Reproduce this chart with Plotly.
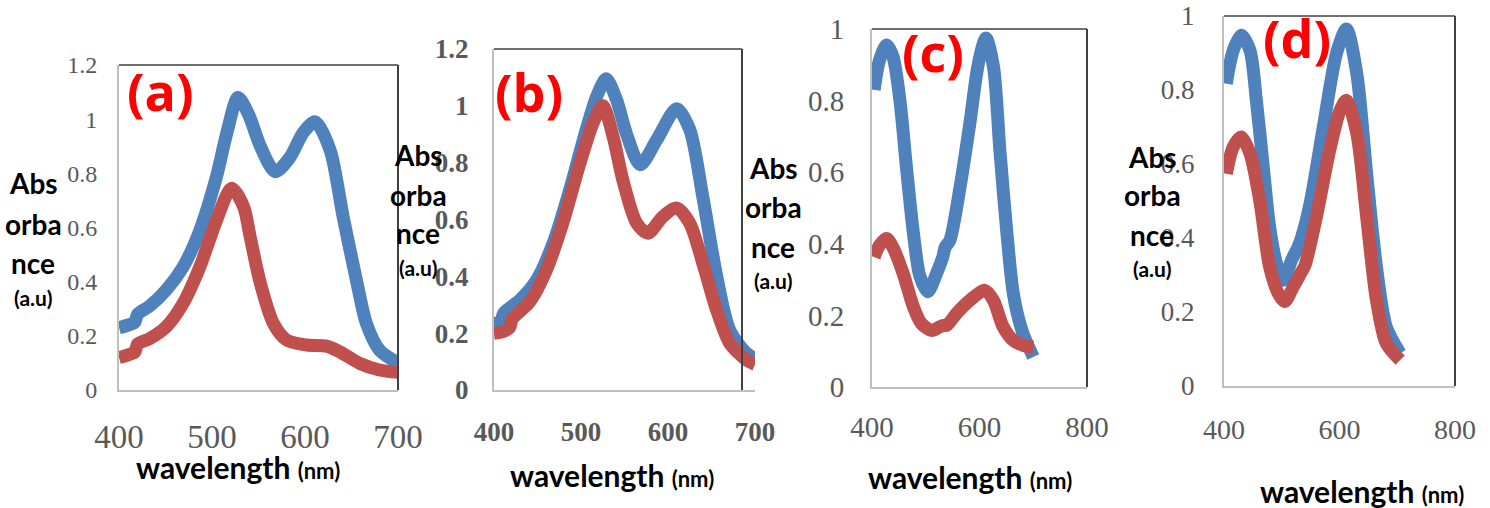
import plotly.graph_objects as go

# ---------------- data ----------------
# Panel (a)
a_blue_x = [400, 410, 417, 420, 433, 451, 469, 487, 505, 516, 528, 539, 552, 568, 584, 598, 611, 627, 641, 656, 666, 680, 700]
a_blue_y = [0.23, 0.24, 0.25, 0.28, 0.31, 0.37, 0.455, 0.59, 0.79, 0.95, 1.08, 1.02, 0.90, 0.806, 0.86, 0.95, 0.99, 0.886, 0.64, 0.394, 0.246, 0.148, 0.10]
a_red_x = [400, 410, 417, 420, 433, 451, 469, 487, 505, 521, 534, 541, 552, 566, 580, 602, 623, 638, 659, 680, 700]
a_red_y = [0.12, 0.13, 0.14, 0.17, 0.19, 0.234, 0.32, 0.455, 0.628, 0.745, 0.677, 0.566, 0.394, 0.246, 0.185, 0.166, 0.162, 0.14, 0.098, 0.074, 0.065]

# Panel (b)
b_blue_x = [400, 408, 411, 430, 449, 468, 487, 506, 518, 529, 541, 552, 568, 587, 610, 625, 640, 656, 671, 690, 700]
b_blue_y = [0.235, 0.24, 0.27, 0.317, 0.387, 0.517, 0.704, 0.916, 1.033, 1.095, 1.02, 0.904, 0.793, 0.88, 0.99, 0.916, 0.68, 0.40, 0.21, 0.13, 0.11]
b_red_x = [400, 410, 418, 421, 441, 460, 479, 499, 514, 525, 537, 548, 564, 577, 594, 610, 625, 640, 656, 671, 690, 700]
b_red_y = [0.20, 0.205, 0.22, 0.25, 0.31, 0.42, 0.587, 0.80, 0.94, 1.0, 0.89, 0.74, 0.587, 0.552, 0.61, 0.64, 0.587, 0.446, 0.28, 0.164, 0.106, 0.09]

# Panel (c)
c_blue_x = [404, 414, 427, 439, 452, 464, 477, 489, 504, 520, 532, 536, 545, 564, 582, 598, 612, 626, 638, 651, 663, 679, 700]
c_blue_y = [0.83, 0.913, 0.955, 0.923, 0.80, 0.615, 0.43, 0.31, 0.266, 0.317, 0.365, 0.39, 0.41, 0.56, 0.736, 0.904, 0.975, 0.895, 0.66, 0.43, 0.26, 0.158, 0.084]
c_red_x = [404, 414, 427, 439, 458, 477, 492, 511, 526, 533, 539, 557, 582, 610, 626, 644, 663, 682, 700]
c_red_y = [0.363, 0.396, 0.415, 0.39, 0.317, 0.224, 0.177, 0.158, 0.168, 0.172, 0.172, 0.205, 0.242, 0.27, 0.242, 0.168, 0.13, 0.116, 0.112]

# Panel (d)
d_blue_x = [404, 416, 430, 445, 456, 468, 479, 491, 503, 517, 528, 534, 549, 572, 595, 612, 630, 647, 664, 681, 705]
d_blue_y = [0.817, 0.907, 0.948, 0.907, 0.772, 0.592, 0.43, 0.331, 0.286, 0.34, 0.375, 0.40, 0.493, 0.70, 0.90, 0.965, 0.844, 0.574, 0.322, 0.16, 0.088]
d_red_x = [404, 416, 430, 445, 462, 479, 494, 505, 520, 533, 540, 560, 583, 601, 612, 630, 647, 664, 681, 705]
d_red_y = [0.574, 0.646, 0.673, 0.628, 0.50, 0.322, 0.25, 0.228, 0.268, 0.305, 0.325, 0.457, 0.637, 0.745, 0.772, 0.682, 0.457, 0.232, 0.115, 0.07]

panel_labels = ["(a)", "(b)", "(c)", "(d)"]
ab_xticks = [400, 500, 600, 700]
cd_xticks = [400, 600, 800]
ab_yticks = [0, 0.2, 0.4, 0.6, 0.8, 1, 1.2]
cd_yticks = [0, 0.2, 0.4, 0.6, 0.8, 1]
ab_yticktext = ["0", "0.2", "0.4", "0.6", "0.8", "1", "1.2"]
cd_yticktext = ["0", "0.2", "0.4", "0.6", "0.8", "1"]

# ---------------- styling ----------------
W, H = 1490, 508
BLUE = "#4F81BD"
RED = "#C0504D"
LW = 13
GRAY_AX = "#BFBFBF"
DARK = "#404040"
TICK_COL = "#595959"
SERIF = "Liberation Serif"
SANS = "Lato"
LETTER_FONT = "Open Sans"

def px(x):
    return x / W

def py(y):
    return 1 - y / H

fig = go.Figure()

series = [
    (a_blue_x, a_blue_y, a_red_x, a_red_y),
    (b_blue_x, b_blue_y, b_red_x, b_red_y),
    (c_blue_x, c_blue_y, c_red_x, c_red_y),
    (d_blue_x, d_blue_y, d_red_x, d_red_y),
]

for i, (bx, by, rx, ry) in enumerate(series):
    xa = "x" if i == 0 else f"x{i+1}"
    ya = "y" if i == 0 else f"y{i+1}"
    fig.add_trace(go.Scatter(x=bx, y=by, mode="lines", xaxis=xa, yaxis=ya,
                             line=dict(color=BLUE, width=LW, shape="spline", smoothing=0.8),
                             showlegend=False, hoverinfo="skip"))
    fig.add_trace(go.Scatter(x=rx, y=ry, mode="lines", xaxis=xa, yaxis=ya,
                             line=dict(color=RED, width=LW, shape="spline", smoothing=0.8),
                             showlegend=False, hoverinfo="skip"))

panels = [
    dict(l=119, r=398, t=65, b=390, xr=[400, 700], yr=[0, 1.2], xt=ab_xticks, yt=ab_yticks, ytt=ab_yticktext,
         xfs=33, yfs=24, bold=False, ystand=15, xstand=16, box_r=398),
    dict(l=494, r=755, t=49, b=390, xr=[400, 700], yr=[0, 1.2], xt=ab_xticks, yt=ab_yticks, ytt=ab_yticktext,
         xfs=27, yfs=27, bold=True, ystand=18, xstand=17, box_r=742),
    dict(l=872, r=1087, t=29, b=387, xr=[400, 800], yr=[0, 1], xt=cd_xticks, yt=cd_yticks, ytt=cd_yticktext,
         xfs=29, yfs=29, bold=False, ystand=20, xstand=13, box_r=1087),
    dict(l=1224, r=1455, t=16, b=386, xr=[400, 800], yr=[0, 1], xt=cd_xticks, yt=cd_yticks, ytt=cd_yticktext,
         xfs=28, yfs=27, bold=False, ystand=22, xstand=17, box_r=1455),
]

layout = dict(width=W, height=H, margin=dict(l=0, r=0, t=0, b=0, pad=0, autoexpand=False),
              paper_bgcolor="white", plot_bgcolor="white", showlegend=False)

shapes = []
for i, p in enumerate(panels):
    xk = "xaxis" if i == 0 else f"xaxis{i+1}"
    yk = "yaxis" if i == 0 else f"yaxis{i+1}"
    yname = "y" if i == 0 else f"y{i+1}"
    xname = "x" if i == 0 else f"x{i+1}"
    tfont_x = dict(family=SERIF, size=p["xfs"], color=TICK_COL, weight="bold" if p["bold"] else "normal")
    tfont_y = dict(family=SERIF, size=p["yfs"], color=TICK_COL, weight="bold" if p["bold"] else "normal")
    layout[xk] = dict(domain=[px(p["l"]), px(p["r"])], range=p["xr"], anchor=yname,
                      tickvals=p["xt"], ticktext=[str(v) for v in p["xt"]], tickfont=tfont_x,
                      showgrid=False, zeroline=False, showline=True, linecolor=GRAY_AX, linewidth=2,
                      ticks="", ticklabelstandoff=p["xstand"], ticklabeloverflow="allow",
                      fixedrange=True, automargin=False)
    layout[yk] = dict(domain=[py(p["b"]), py(p["t"])], range=p["yr"], anchor=xname,
                      tickvals=p["yt"], ticktext=p["ytt"], tickfont=tfont_y,
                      showgrid=False, zeroline=False, showline=True, linecolor=GRAY_AX, linewidth=2,
                      ticks="", ticklabelstandoff=p["ystand"], ticklabeloverflow="allow",
                      fixedrange=True, automargin=False)
    shapes.append(dict(type="line", xref="paper", yref="paper",
                       x0=px(p["l"]), x1=px(p["box_r"]), y0=py(p["t"]), y1=py(p["t"]),
                       line=dict(color=DARK, width=1.5)))
    shapes.append(dict(type="line", xref="paper", yref="paper",
                       x0=px(p["box_r"]), x1=px(p["box_r"]), y0=py(p["t"]), y1=py(p["b"]),
                       line=dict(color=DARK, width=2)))

layout["shapes"] = shapes

annotations = []

def ann(text, x, y, size, color="black", weight="bold", family=SANS):
    annotations.append(dict(text=text, x=px(x), y=py(y), xref="paper", yref="paper",
                            xanchor="center", yanchor="middle", showarrow=False,
                            font=dict(family=family, size=size, color=color, weight=weight)))

# panel letters
ann(panel_labels[0], 160, 90, 52, color="#FF0000", family=LETTER_FONT)
ann(panel_labels[1], 529, 91, 52, color="#FF0000", family=LETTER_FONT)
ann(panel_labels[2], 933, 51, 52, color="#FF0000", family=LETTER_FONT)
ann(panel_labels[3], 1297, 38, 52, color="#FF0000", family=LETTER_FONT)

# y-axis titles (stacked)
ylab_pos = [(33, [183, 224, 263, 297]),
            (418, [155, 195, 233, 267]),
            (773, [168, 207, 247, 280]),
            (1152, [157, 195, 235, 268])]
for xc, ys in ylab_pos:
    ann("Abs", xc, ys[0], 28)
    ann("orba", xc, ys[1], 28)
    ann("nce", xc, ys[2], 28)
    ann("(a.u)", xc, ys[3], 21)

# x-axis titles
xlab_pos = [(238, 467), (612, 475), (970, 477), (1362, 491)]
for xc, yc in xlab_pos:
    ann("wavelength <span style='font-size:22px'>(nm)</span>", xc, yc, 30)

layout["annotations"] = annotations
fig.update_layout(**layout)
fig.write_html("out.html", config={"displayModeBar": False},
               post_script="document.body.style.margin='0';")
